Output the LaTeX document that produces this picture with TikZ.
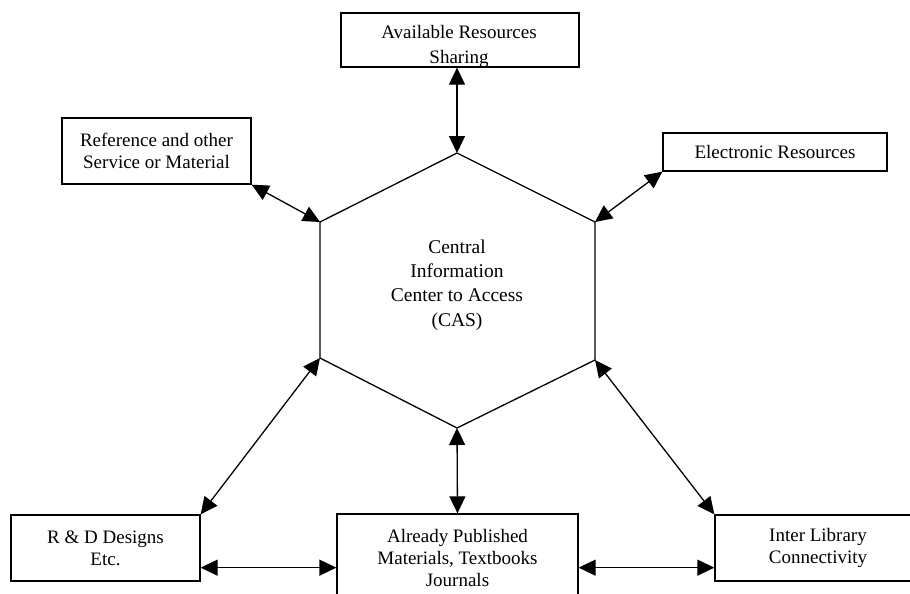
\documentclass[tikz,border=0pt]{standalone}
\usepackage{fontspec}
\setmainfont{Liberation Serif}
\usetikzlibrary{arrows.meta}

\tikzset{
  infobox/.style={draw, rectangle, line width=1.3pt, align=center, inner sep=0pt,
    font=\fontsize{19}{22}\selectfont},
  boxtext/.style={align=center, inner sep=0pt, font=\fontsize{19}{25}\selectfont},
  twoway/.style={{Triangle[length=17pt,width=16pt]}-{Triangle[length=17pt,width=16pt]}, line width=1.3pt},
}

\begin{document}
\begin{tikzpicture}[x=1pt,y=-1pt]
    \clip (0,0) rectangle (910,594);

    % Central hexagon
    \coordinate (hexT) at (457,153);
    \coordinate (hexUR) at (595,222);
    \coordinate (hexLR) at (595,360);
    \coordinate (hexB) at (457,428);
    \coordinate (hexLL) at (320,358);
    \coordinate (hexUL) at (320,222);
    \draw[line width=1.3pt] (hexT) -- (hexUR) -- (hexLR) -- (hexB) -- (hexLL) -- (hexUL) -- cycle;
    \node[boxtext, font=\fontsize{19.5}{24.3}\selectfont] (cas) at (457,285) {Central\\Information\\Center to Access\\(CAS)};

    % Boxes round it
    \node[infobox, minimum width=238pt, minimum height=54pt] (avail) at (460,40) {};
    \node[boxtext] (availtext) at (459,46) {Available Resources\\Sharing};
    \node[infobox, minimum width=189pt, minimum height=66pt] (ref) at (156.5,151) {Reference and other\\Service or Material};
    \node[infobox, minimum width=224pt, minimum height=38pt] (elec) at (775,152) {Electronic Resources};
    \node[infobox, minimum width=189pt, minimum height=66pt] (rd) at (105.5,548) {R \& D Designs\\Etc.};
    \node[infobox, minimum width=241pt, minimum height=88pt] (pub) at (457.5,558) {Already Published\\Materials, Textbooks\\Journals};
    \node[infobox, minimum width=206pt, minimum height=66pt] (inter) at (818,548) {Inter Library\\Connectivity};

    % Arrows
    \draw[twoway] (avail.south -| hexT) -- (hexT);
    \foreach \from/\to in {ref.south east/hexUL, elec.south west/hexUR, hexLL/rd.north east, hexLR/inter.north west, hexB/pub.north} {
      \draw[twoway] (\from) -- (\to);
    }
    \draw[twoway] ([yshift=14pt]rd.south east) -- ([yshift=14pt]rd.south east -| pub.west);
    \draw[twoway] ([yshift=14pt]rd.south east -| pub.east) -- ([yshift=14pt]rd.south east -| inter.west);
\end{tikzpicture}
\end{document}
